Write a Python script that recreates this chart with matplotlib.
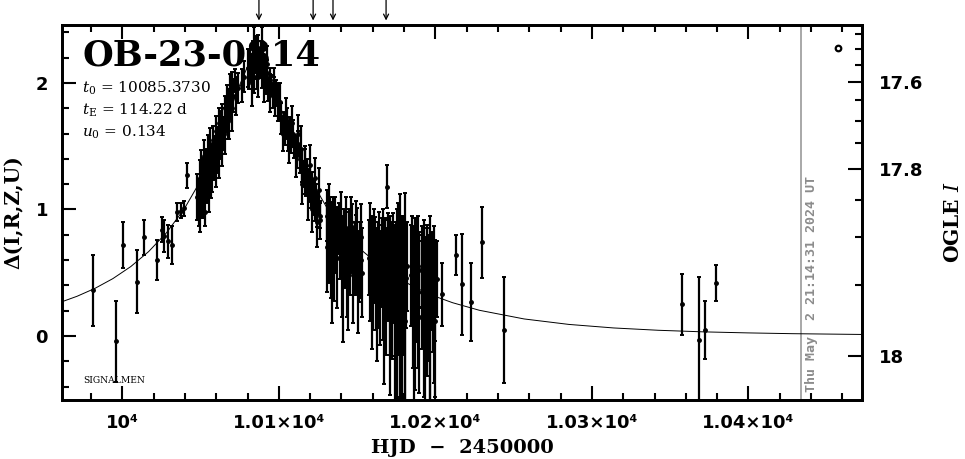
import numpy as np
import matplotlib.pyplot as plt
from matplotlib.ticker import MultipleLocator, FuncFormatter, FixedLocator

# photometry: HJD-2450000, Delta(I,R,Z,U), error
hjd = [9981.5, 9995.8, 10000.6, 10009.2, 10013.9, 10022.0, 10025.2, 10026.8, 10029.4,
       10032.0, 10034.8, 10037.3, 10039.6, 10041.2,
       10048.2, 10048.6, 10049.0, 10049.5, 10050.1, 10050.6, 10051.0, 10051.5, 10052.0,
       10052.6, 10053.1, 10053.6,
       10054.3, 10054.9, 10055.5, 10056.1, 10056.8, 10057.4, 10058.0, 10058.7, 10059.3,
       10060.0, 10060.7, 10061.3, 10062.0, 10062.6, 10063.3,
       10064.0, 10064.7, 10065.4, 10066.1, 10066.8, 10067.5, 10068.2, 10068.9, 10069.6,
       10070.3, 10071.0, 10071.8, 10076.2,
       10081.0, 10081.8, 10082.5, 10083.2, 10083.9, 10084.6, 10085.3, 10086.0, 10086.7,
       10087.4, 10088.1, 10088.8, 10089.5, 10090.2, 10091.0, 10091.8, 10092.6, 10093.4,
       10094.2, 10095.0, 10096.0, 10096.8, 10097.6, 10098.4,
       10100.0, 10101.5, 10103.0, 10104.2, 10105.0, 10106.0, 10107.0, 10108.0, 10109.0,
       10110.0, 10111.5, 10112.5,
       10113.5, 10114.5, 10115.5, 10116.5, 10117.5, 10118.3, 10119.0, 10119.7, 10120.4,
       10121.1, 10121.8, 10122.5, 10123.2, 10123.9, 10124.6, 10125.3, 10126.0,
       10130.5, 10131.2, 10131.9, 10132.6, 10133.3, 10134.0, 10134.7, 10135.4,
       10138.2, 10139.0, 10139.8, 10140.6, 10141.4, 10142.2, 10143.0, 10143.8, 10144.6,
       10145.4, 10146.2, 10147.0, 10147.8, 10148.6, 10149.4, 10150.2, 10151.0, 10151.8,
       10152.6,
       10157.8, 10158.5, 10159.2, 10159.9, 10160.6, 10161.3, 10162.0, 10162.7, 10163.4,
       10164.1, 10169.1,
       10166.0, 10166.8, 10167.6, 10168.4, 10170.0, 10170.8, 10171.6, 10172.4, 10173.2,
       10174.0, 10174.8, 10175.6, 10176.4, 10177.2, 10178.0, 10178.8, 10179.6, 10180.4,
       10181.2,
       10184.6, 10185.4, 10186.2, 10187.0, 10187.8, 10188.6, 10189.4,
       10191.2, 10192.0, 10192.8, 10193.6, 10194.4, 10195.2, 10196.0, 10196.8, 10197.6,
       10198.4, 10199.2, 10200.0,
       10204.3, 10213.2, 10217.1, 10222.8, 10229.9, 10243.9,
       10357.6, 10368.5, 10372.3, 10379.3,
       # second pass over the dense parts
       10047.5, 10049.8, 10051.8, 10053.8, 10055.2, 10057.0, 10059.8, 10061.6, 10063.8,
       10065.8, 10067.9, 10069.9, 10072.6, 10074.0, 10078.0,
       10080.2, 10082.9, 10084.2, 10085.8, 10087.0, 10089.0, 10090.6, 10092.2, 10094.6,
       10097.2, 10099.2,
       10101.0, 10102.5, 10104.6, 10106.5, 10108.5, 10110.8, 10112.0, 10114.0, 10115.0,
       10117.0, 10118.7, 10120.0, 10121.4, 10122.8, 10124.2, 10125.6, 10126.6,
       10130.8, 10132.2, 10133.7, 10135.8, 10137.0, 10139.4, 10141.0, 10142.6, 10144.2,
       10145.8, 10147.4, 10149.0, 10150.6, 10152.2, 10153.2,
       10158.0, 10159.6, 10161.0, 10162.4, 10163.8, 10164.6,
       10166.4, 10167.2, 10169.6, 10171.2, 10172.8, 10174.4, 10176.0, 10177.6, 10179.2,
       10180.8, 10182.0,
       10185.0, 10186.6, 10188.2, 10189.8, 10191.6, 10193.2, 10194.8, 10196.4, 10198.0,
       10199.6, 10201.0]
delta = [0.36, -0.04, 0.72, 0.43, 0.78, 0.60, 0.84, 0.79, 0.75,
         0.72, 0.98, 0.99, 1.01, 1.27,
         1.02, 1.12, 0.98, 1.25, 1.18, 1.35, 1.08, 1.30, 1.42,
         0.98, 1.22, 1.38,
         1.28, 1.45, 1.33, 1.52, 1.25, 1.40, 1.55, 1.36, 1.48,
         1.62, 1.44, 1.56, 1.68, 1.50, 1.64,
         1.72, 1.60, 1.80, 1.75, 1.88, 1.70, 1.86, 1.95, 1.82,
         1.98, 1.90, 2.02, 1.98,
         2.05, 2.15, 2.10, 2.22, 2.05, 2.18, 2.25, 2.12, 2.28,
         2.20, 2.15, 2.24, 2.08, 2.18, 2.12, 2.02, 2.08, 1.95,
         2.02, 1.98, 1.90, 1.96, 1.85, 1.92,
         1.80, 1.72, 1.68, 1.62, 1.70, 1.58, 1.64, 1.55, 1.60,
         1.50, 1.45, 1.52,
         1.40, 1.35, 1.28, 1.38, 1.22, 1.30, 1.18, 1.25, 1.12,
         1.20, 1.08, 1.15, 1.02, 1.10, 0.98, 1.05, 0.95,
         0.95, 0.82, 0.72, 0.88, 0.65, 0.78, 0.92, 0.60,
         0.85, 0.70, 0.78, 0.55, 0.82, 0.66, 0.74, 0.50, 0.80,
         0.62, 0.72, 0.86, 0.58, 0.70, 0.64, 0.76, 0.55, 0.68,
         0.60,
         0.62, 0.50, 0.70, 0.45, 0.58, 0.66, 0.40, 0.55, 0.48,
         0.62, 1.18,
         0.58, 0.42, 0.65, 0.35, 0.52, 0.40, 0.60, 0.30, 0.48,
         0.36, 0.55, 0.25, 0.45, 0.32, 0.50, 0.20, 0.40, 0.28,
         0.46,
         0.48, 0.30, 0.55, 0.25, 0.40, 0.35, 0.52,
         0.35, 0.45, 0.22, 0.38, 0.28, 0.42, 0.30, 0.20, 0.40,
         0.32, 0.25, 0.36,
         0.33, 0.64, 0.41, 0.27, 0.74, 0.05,
         0.25, -0.03, 0.05, 0.42,
         1.10, 1.02, 1.15, 1.25, 1.20, 1.32, 1.38, 1.45, 1.52,
         1.62, 1.72, 1.80, 1.90, 1.96, 2.05,
         2.12, 2.00, 2.30, 2.15, 2.05, 2.32, 2.00, 2.15, 1.92,
         1.98, 1.85,
         1.85, 1.60, 1.72, 1.52, 1.68, 1.42, 1.60, 1.48, 1.20,
         1.30, 1.12, 1.35, 1.00, 1.25, 0.90, 1.15, 0.92,
         0.70, 1.00, 0.50, 0.80, 0.62, 0.92, 0.40, 0.85, 0.45,
         0.90, 0.48, 0.82, 0.42, 0.78, 0.50,
         0.75, 0.35, 0.72, 0.30, 0.68, 0.38,
         0.70, 0.22, 0.62, 0.18, 0.62, 0.15, 0.58, 0.10, 0.55,
         0.12, 0.55,
         0.60, 0.10, 0.58, 0.15, 0.55, 0.10, 0.50, 0.08, 0.52,
         0.12, 0.45]
err = [0.28, 0.32, 0.18, 0.25, 0.14, 0.16, 0.10, 0.13, 0.13,
       0.15, 0.07, 0.06, 0.06, 0.10,
       0.10, 0.12, 0.11, 0.14, 0.10, 0.12, 0.15, 0.11, 0.13,
       0.11, 0.16, 0.10,
       0.12, 0.14, 0.10, 0.12, 0.16, 0.09, 0.11, 0.13, 0.10,
       0.12, 0.15, 0.09, 0.12, 0.10, 0.14,
       0.11, 0.13, 0.10, 0.12, 0.10, 0.14, 0.09, 0.12, 0.10,
       0.11, 0.13, 0.09, 0.13,
       0.10, 0.12, 0.09, 0.11, 0.13, 0.10, 0.12, 0.09, 0.10,
       0.08, 0.11, 0.09, 0.12, 0.10, 0.09, 0.11, 0.10, 0.09,
       0.10, 0.08, 0.10, 0.09, 0.11, 0.10,
       0.10, 0.12, 0.09, 0.11, 0.10, 0.12, 0.09, 0.10, 0.11,
       0.09, 0.12, 0.10,
       0.11, 0.13, 0.10, 0.12, 0.11, 0.10, 0.12, 0.09, 0.11,
       0.10, 0.12, 0.09, 0.11, 0.10, 0.12, 0.09, 0.10,
       0.20, 0.25, 0.30, 0.22, 0.35, 0.28, 0.18, 0.32,
       0.20, 0.25, 0.22, 0.40, 0.18, 0.28, 0.24, 0.35, 0.20,
       0.30, 0.22, 0.18, 0.26, 0.20, 0.32, 0.25, 0.28, 0.22,
       0.30,
       0.30, 0.38, 0.25, 0.40, 0.32, 0.28, 0.35, 0.30, 0.42,
       0.26, 0.17,
       0.35, 0.45, 0.28, 0.50, 0.40, 0.55, 0.30, 0.48, 0.38,
       0.52, 0.35, 0.75, 0.60, 0.80, 0.45, 0.70, 0.55, 0.85,
       0.40,
       0.40, 0.55, 0.32, 0.68, 0.45, 0.60, 0.30,
       0.45, 0.35, 0.70, 0.40, 0.60, 0.38, 0.50, 0.75, 0.35,
       0.45, 0.62, 0.40,
       0.25, 0.16, 0.40, 0.31, 0.28, 0.42,
       0.24, 0.50, 0.23, 0.14,
       0.18, 0.20, 0.22, 0.20, 0.22, 0.18, 0.20, 0.20, 0.18,
       0.18, 0.16, 0.18, 0.15, 0.12, 0.12,
       0.15, 0.18, 0.14, 0.20, 0.16, 0.12, 0.15, 0.14, 0.15,
       0.14, 0.15,
       0.15, 0.14, 0.16, 0.15, 0.14, 0.16, 0.15, 0.18, 0.16,
       0.18, 0.20, 0.16, 0.18, 0.16, 0.20, 0.18, 0.15,
       0.35, 0.20, 0.40, 0.30, 0.40, 0.22, 0.45, 0.25, 0.40,
       0.20, 0.38, 0.25, 0.40, 0.26, 0.35,
       0.30, 0.45, 0.28, 0.50, 0.30, 0.45,
       0.30, 0.60, 0.35, 0.65, 0.35, 0.70, 0.40, 0.80, 0.40,
       0.75, 0.35,
       0.35, 0.70, 0.35, 0.60, 0.32, 0.65, 0.35, 0.70, 0.30,
       0.60, 0.30]

# model curve (t0 = 10085.3730, tE = 114.22 d, u0 = 0.134)
model_t = [9959.73, 9971.15, 9982.57, 9993.99, 10005.42, 10016.84, 10028.26, 10039.68,
           10051.10, 10056.82, 10062.53, 10068.24, 10073.95, 10079.66, 10082.52, 10085.37,
           10088.23, 10091.08, 10096.79, 10102.50, 10108.21, 10113.93, 10119.64, 10131.06,
           10142.48, 10153.90, 10165.32, 10176.75, 10188.17, 10199.59, 10211.01, 10228.15,
           10256.70, 10285.26, 10313.81, 10342.37, 10370.92, 10399.48, 10428.03, 10473.72]
model_d = [0.2629, 0.3140, 0.3765, 0.4534, 0.5485, 0.6671, 0.8163, 1.0060,
           1.2511, 1.4001, 1.5693, 1.7576, 1.9532, 2.1198, 2.1712, 2.1895,
           2.1712, 2.1198, 1.9532, 1.7576, 1.5693, 1.4001, 1.2511, 1.0060,
           0.8163, 0.6671, 0.5485, 0.4534, 0.3765, 0.3140, 0.2629, 0.2030,
           0.1346, 0.0914, 0.0635, 0.0451, 0.0327, 0.0244, 0.0182, 0.0119]

arrow_t = [10087.3, 10121.9, 10134.6, 10168.5]
now_t = 10433.8
now_label = 'Thu May  2 21:14:31 2024 UT'
mag_major = [17.6, 17.8, 18.0]
mag_labels = ['17.6', '17.8', '18']
mag_minor = [17.45, 17.5, 17.55, 17.65, 17.7, 17.75, 17.85, 17.9, 17.95]
I_base, f_s = 17.988, 0.08


def mag_to_delta(m):
    return 2.5 * np.log10(1 + (10 ** (0.4 * (I_base - np.asarray(m))) - 1) / f_s)


def xfmt(v, pos):
    if abs(v - 10000) < 1e-6:
        return '10\u2074'
    return '%.2f\u00d710\u2074' % (v / 1e4)


plt.rcParams['mathtext.fontset'] = 'dejavuserif'
fig = plt.figure(figsize=(9.65, 4.59), dpi=100)
ax = fig.add_axes([62 / 965, 59 / 459, 800 / 965, 375 / 459])

ax.errorbar(hjd, delta, yerr=err, fmt='o', ms=2.5, color='k', ecolor='k',
            elinewidth=1.6, capsize=1.6, capthick=1.4, zorder=3)
ax.plot(model_t, model_d, color='k', lw=0.7, zorder=2)
ax.plot([10457.3], [2.28], 'o', ms=4, mfc='white', mec='k', mew=1.6, zorder=4)

ax.axvline(now_t, color='#999999', lw=1.2, zorder=1)
ax.text(now_t + 2.2, 0.02, now_label, transform=ax.get_xaxis_transform(),
        rotation=90, ha='left', va='bottom', color='#8c8c8c',
        family='DejaVu Sans Mono', fontweight='bold', fontsize=9.6)

for t in arrow_t:
    ax.annotate('', xy=(t, 1.012), xytext=(t, 1.068),
                xycoords=('data', 'axes fraction'), textcoords=('data', 'axes fraction'),
                arrowprops=dict(arrowstyle='->', lw=0.9, color='k',
                                mutation_scale=9, shrinkA=0, shrinkB=0),
                annotation_clip=False)

ax.set_xlim(9961.5, 10472.5)
ax.set_ylim(-0.506, 2.458)

ax.xaxis.set_major_locator(MultipleLocator(100))
ax.xaxis.set_minor_locator(MultipleLocator(20))
ax.xaxis.set_major_formatter(FuncFormatter(xfmt))
ax.yaxis.set_major_locator(MultipleLocator(1))
ax.yaxis.set_minor_locator(MultipleLocator(0.2))
ax.yaxis.set_major_formatter(FuncFormatter(lambda v, p: '%d' % round(v)))

ax.tick_params(axis='x', which='both', direction='in', top=True, bottom=True, width=1.5)
ax.tick_params(axis='y', which='both', direction='in', left=True, right=False, width=1.5)
ax.tick_params(which='major', length=10)
ax.tick_params(which='minor', length=5)
ax.tick_params(axis='x', pad=10, labelsize=13)
ax.tick_params(axis='y', pad=10, labelsize=13)
for lab in ax.get_xticklabels() + ax.get_yticklabels():
    lab.set_fontweight('bold')
for s in ax.spines.values():
    s.set_linewidth(2)

ax2 = ax.twinx()
ax2.set_ylim(ax.get_ylim())
ax2.yaxis.set_major_locator(FixedLocator(mag_to_delta(mag_major)))
ax2.yaxis.set_minor_locator(FixedLocator(mag_to_delta(mag_minor)))
ax2.set_yticklabels(mag_labels, fontweight='bold', fontsize=13)
ax2.tick_params(axis='y', which='both', direction='in', width=1.5, pad=12)
ax2.tick_params(which='major', length=10)
ax2.tick_params(which='minor', length=5)
for s in ax2.spines.values():
    s.set_linewidth(2)

# title sits under the data points, as in the original
ax.text(0.025, 0.965, 'OB-23-0814', transform=ax.transAxes, ha='left', va='top',
        family='DejaVu Serif', fontweight='bold', fontsize=25.5, zorder=1)
par_lines = [r'$t_{\rm 0}$ = 10085.3730', r'$t_{\rm E}$ = 114.22 d', r'$u_{\rm 0}$ = 0.134']
for i, s in enumerate(par_lines):
    fig.text(82 / 965, 1 - (93 + 22 * i) / 459, s, family='DejaVu Serif', fontsize=11,
             ha='left', va='baseline')
fig.text(83 / 965, 1 - 383 / 459, 'SIGNALMEN', family='DejaVu Serif', fontsize=6.6,
         ha='left', va='baseline')

fig.text(462 / 965, 1 - 453 / 459, 'HJD  \u2212  2450000', family='DejaVu Serif',
         fontweight='bold', fontsize=14, ha='center', va='baseline')
fig.text(14 / 965, 1 - 212 / 459, '\u0394(I,R,Z,U)', family='DejaVu Serif',
         fontweight='bold', fontsize=14.5, rotation=90, ha='center', va='center')
fig.text(953 / 965, 1 - 222 / 459, r'OGLE $\mathit{I}$', family='DejaVu Serif',
         fontweight='bold', fontsize=14.5, rotation=90, ha='center', va='center')

fig.savefig('out.png', dpi=100)
